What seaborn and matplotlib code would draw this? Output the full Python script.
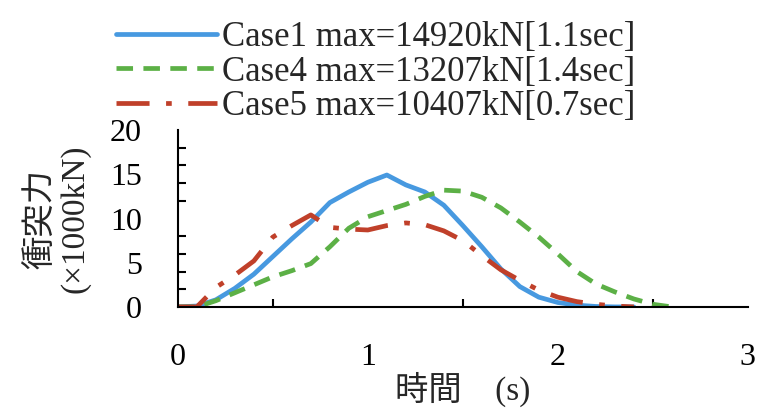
import numpy as np
import pandas as pd
import matplotlib
matplotlib.use('Agg')
import matplotlib.pyplot as plt
import seaborn as sns

# time axis (s)
time_s = [0.0, 0.1, 0.2, 0.3, 0.4, 0.5, 0.6, 0.7, 0.8, 0.9, 1.0, 1.1, 1.2,
          1.3, 1.4, 1.5, 1.6, 1.7, 1.8, 1.9, 2.0, 2.1, 2.2, 2.3, 2.4, 2.5, 2.6]

# impact force (x1000 kN)
case1 = [0.0, 0.1, 0.8, 2.1, 3.7, 5.7, 7.7, 9.6, 11.8, 13.0, 14.1, 14.92, 13.8,
         13.0, 11.5, 9.2, 6.8, 4.3, 2.3, 1.1, 0.5, 0.2, 0.05, 0.0, 0.0, np.nan, np.nan]
case4 = [0.0, 0.0, 0.7, 1.6, 2.5, 3.4, 4.1, 4.9, 6.8, 8.9, 10.2, 10.9, 11.6,
         12.5, 13.207, 13.1, 12.4, 11.2, 9.6, 7.9, 6.0, 4.0, 2.6, 1.7, 0.9, 0.3, 0.0]
case5 = [0.0, 0.0, 2.2, 3.6, 5.2, 7.9, 9.2, 10.407, 9.0, 8.8, 8.7, 9.2, 9.5,
         9.3, 8.6, 7.5, 5.8, 4.2, 3.0, 1.9, 1.1, 0.6, 0.3, 0.1, 0.0, np.nan, np.nan]

labels = ['Case1 max=14920kN[1.1sec]',
          'Case4 max=13207kN[1.4sec]',
          'Case5 max=10407kN[0.7sec]']
colors = ['#4799E0', '#5CB046', '#C0402A']

y_ticks = [0, 5, 10, 15, 20]
x_ticks = [0, 1, 2, 3]

sns.set_theme(style='white')
plt.rcParams['font.family'] = ['Liberation Serif', 'Noto Sans CJK JP', 'DejaVu Sans']

fig = plt.figure(figsize=(7.6, 4.17), dpi=100)
ax = fig.add_axes([0.234, 0.264, 0.750, 0.424])

for vals, lab, col in zip([case1, case4, case5], labels, colors):
    sns.lineplot(x=time_s, y=vals, ax=ax, color=col, linewidth=3.4, label=lab)

ax.lines[1].set_dashes([3.5, 2.2])
ax.lines[2].set_dashes([7, 3.5, 1.2, 3.5])

ax.set_xlim(0, 3)
ax.set_ylim(0, 20)
ax.set_xticks(x_ticks)
ax.set_xticks(np.arange(0, 3.01, 0.5), minor=True)
ax.set_yticks(y_ticks)
ax.set_yticks(np.arange(0, 20.1, 2), minor=True)
ax.tick_params(axis='both', which='major', length=0, labelsize=23, colors='black')
ax.tick_params(axis='x', which='major', pad=26)
ax.tick_params(axis='y', which='major', pad=26)
ax.tick_params(axis='both', which='minor', direction='in', length=6, width=1.5,
               color='black', bottom=True, left=True)

for side in ['top', 'right']:
    ax.spines[side].set_visible(False)
for side in ['left', 'bottom']:
    ax.spines[side].set_color('black')
    ax.spines[side].set_linewidth(1.5)

ax.set_xlabel('時間　(s)', fontsize=24, labelpad=0)
ax.set_ylabel('衝突力\n(×1000kN)', fontsize=24, labelpad=14, linespacing=1.15)

ax.legend(loc='upper left', bbox_to_anchor=(0.125, 1.0), bbox_transform=fig.transFigure,
          frameon=False, fontsize=25, handlelength=2.9, handletextpad=0.15,
          labelspacing=0.05, borderpad=0.1)

fig.savefig('out.png', dpi=100)
